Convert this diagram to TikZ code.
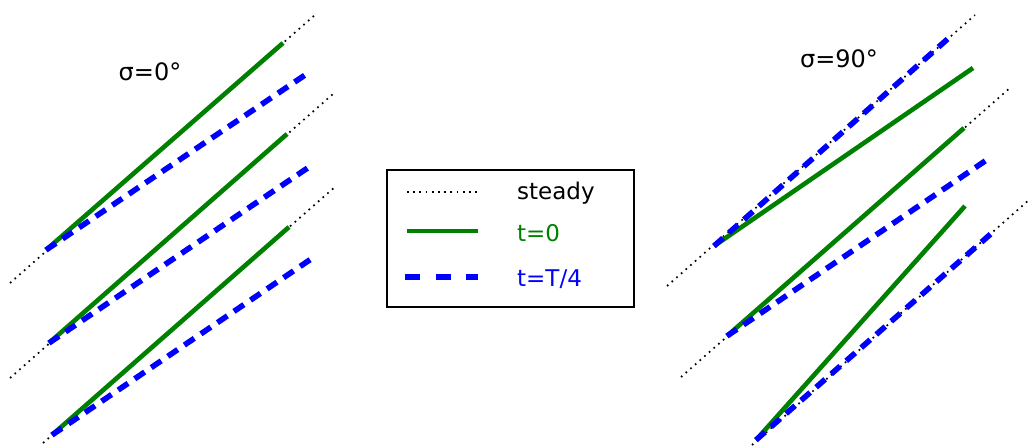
\documentclass[tikz,border=0pt]{standalone}
\usepackage{fontspec}
\setmainfont{DejaVu Sans}
\definecolor{mgreen}{HTML}{008000}
\definecolor{mblue}{HTML}{0000FF}
\begin{document}
\begin{tikzpicture}[x=1pt,y=-1pt,
  steadyline/.style={black,line width=1.7pt,dash pattern=on 1.7pt off 4.5pt},
  t0line/.style={mgreen,line width=4.6pt},
  tqline/.style={mblue,line width=5.6pt,dash pattern=on 12pt off 8pt},
  tqleg/.style={mblue,line width=5.6pt,dash pattern=on 15pt off 15.5pt},
  lab/.style={inner sep=0pt,font=\fontsize{24}{28}\selectfont},
  leg/.style={inner sep=0pt,anchor=base west,font=\fontsize{23}{28}\selectfont}]
\useasboundingbox (0,0) rectangle (1030,446);
% ---------- left panel sigma = 0
\coordinate (L1s) at (10,283);  \coordinate (L1e) at (316,14);
\coordinate (L1a) at (46,250);  \coordinate (L1g) at (283,43);  \coordinate (L1b) at (308,73);
\coordinate (L2s) at (10,378);  \coordinate (L2e) at (333,94);
\coordinate (L2a) at (49,343);  \coordinate (L2g) at (287,134); \coordinate (L2b) at (312,165);
\coordinate (L3s) at (43,443);  \coordinate (L3e) at (336,186);
\coordinate (L3a) at (52,435);  \coordinate (L3g) at (289,227); \coordinate (L3b) at (314,257);
\foreach \i in {1,2,3}{
  \draw[steadyline] (L\i s) -- (L\i e);
  \draw[t0line] (L\i a) -- (L\i g);
  \draw[tqline] (L\i a) -- (L\i b);
}
\node[lab,anchor=base] (titleL) at (150,80.7) {σ=0°};
% ---------- right panel sigma = 90
\coordinate (R1s) at (667,286);  \coordinate (R1e) at (975,15);
\coordinate (R1a) at (714,246);  \coordinate (R1g) at (973,68);  \coordinate (R1b) at (951,36);
\coordinate (R2s) at (681,377);  \coordinate (R2e) at (1011,87);
\coordinate (R2a) at (727,336);  \coordinate (R2g) at (964,128); \coordinate (R2b) at (988,159);
\coordinate (R3s) at (752,445);  \coordinate (R3e) at (1030,199);
\coordinate (R3a) at (756,440);  \coordinate (R3g) at (965,206); \coordinate (R3b) at (993,232);
\foreach \i in {1,2,3}{
  \draw[steadyline] (R\i s) -- (R\i e);
  \draw[t0line] (R\i a) -- (R\i g);
  \draw[tqline] (R\i a) -- (R\i b);
}
\node[lab,anchor=base] (titleR) at (839,67.3) {σ=90°};
% ---------- legend
\draw[black,line width=1.5pt] (387,170) rectangle (634,307);
\coordinate (k1a) at (407,192); \coordinate (k1b) at (478,192);
\coordinate (k2a) at (407,231); \coordinate (k2b) at (478,231);
\coordinate (k3a) at (405,277); \coordinate (k3b) at (478,277);
\draw[steadyline] (k1a) -- (k1b);
\draw[t0line] (k2a) -- (k2b);
\draw[tqleg] (k3a) -- (k3b);
\node[leg] (lsteady) at (517,199.3) {steady};
\node[leg,text=mgreen] (lt0) at (517,241.7) {t=0};
\node[leg,text=mblue] (ltq) at (517,286.7) {t=T/4};
\end{tikzpicture}
\end{document}
